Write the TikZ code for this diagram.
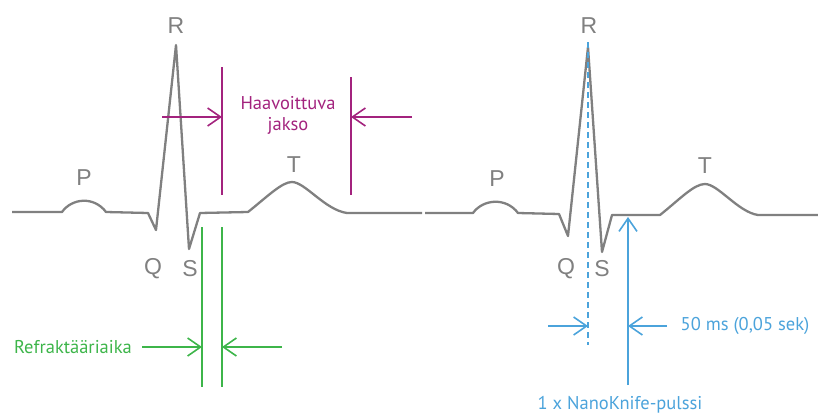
\documentclass[tikz,border=0pt]{standalone}
\usepackage{fontspec}
\setmainfont{PT Sans}
\newfontfamily\arialfont{Liberation Sans}
\usetikzlibrary{arrows.meta}
\definecolor{ecggray}{RGB}{128,128,128}
\definecolor{vmag}{RGB}{163,35,126}
\definecolor{vgreen}{RGB}{61,181,74}
\definecolor{vblue}{RGB}{75,163,219}
\tikzset{
  trace/.style={draw=ecggray,line width=2.3pt,line join=round},
  wlabel/.style={font=\arialfont\fontsize{23}{23}\selectfont,text=ecggray,inner sep=0pt},
  tlabel/.style={font=\fontsize{18.5}{21}\selectfont,inner sep=0pt,align=center},
  barb/.style={-{Straight Barb[length=13pt,width=18pt]}},
  magline/.style={draw=vmag,line width=1.6pt},
  grnline/.style={draw=vgreen,line width=1.6pt},
  bluline/.style={draw=vblue,line width=1.6pt},
}
\begin{document}
\begin{tikzpicture}[x=1pt,y=-1pt]
\useasboundingbox (0,0) rectangle (818,415);
% first beat
\draw[trace] (12,212) -- (62,212) .. controls (72,198) and (94,196) .. (106,212) -- (148,213)
  -- (156,230) -- (176,45) -- (189,249) -- (200,213) -- (248,212)
  .. controls (268,196) and (282,182) .. (292,182) .. controls (305,182) and (325,210) .. (347,213) -- (422,213);
% second beat
\draw[trace] (425,213) -- (473,213) .. controls (483,199) and (506,197) .. (518,213) -- (559,214)
  -- (568,236) -- (588,47) -- (602,252) -- (612,215) -- (660,215)
  .. controls (680,199) and (694,184) .. (705,184) .. controls (718,184) and (738,212) .. (758,215) -- (818,215);
% wave labels
\node[wlabel] (p1) at (84,178) {P};
\node[wlabel] (r1) at (176,26) {R};
\node[wlabel] (t1) at (294,165) {T};
\node[wlabel] (q1) at (153,269) {Q};
\node[wlabel] (s1) at (190,269) {S};
\node[wlabel] (p2) at (497,179) {P};
\node[wlabel] (r2) at (589,26) {R};
\node[wlabel] (t2) at (705,166) {T};
\node[wlabel] (q2) at (566,269) {Q};
\node[wlabel] (s2) at (602,269) {S};
% vulnerable period (magenta)
\coordinate (m1t) at (222,67); \coordinate (m1b) at (222,195);
\coordinate (m2t) at (351,77); \coordinate (m2b) at (351,195);
\coordinate (m1a) at (162,117); \coordinate (m1e) at (222,117);
\coordinate (m2a) at (412,117); \coordinate (m2e) at (351,117);
\draw[magline] (m1t) -- (m1b);
\draw[magline] (m2t) -- (m2b);
\draw[magline,barb] (m1a) -- (m1e);
\draw[magline,barb] (m2a) -- (m2e);
\node[tlabel,text=vmag] (hj) at (288,115) {Haavoittuva\\jakso};
% refractory period (green)
\coordinate (g1t) at (202,227); \coordinate (g1b) at (202,387);
\coordinate (g2t) at (222,227); \coordinate (g2b) at (222,387);
\coordinate (g1a) at (142,347); \coordinate (g1e) at (202,347);
\coordinate (g2a) at (282,347); \coordinate (g2e) at (222,347);
\draw[grnline] (g1t) -- (g1b);
\draw[grnline] (g2t) -- (g2b);
\draw[grnline,barb] (g1a) -- (g1e);
\draw[grnline,barb] (g2a) -- (g2e);
\node[tlabel,text=vgreen] (ref) at (73,347) {Refraktääriaika};
% NanoKnife pulse (blue)
\coordinate (dt) at (588,42); \coordinate (db) at (588,345);
\coordinate (pb) at (628,385); \coordinate (pt) at (628,217);
\coordinate (b1a) at (548,326); \coordinate (b1e) at (588,326);
\coordinate (b2a) at (667,326); \coordinate (b2e) at (628,326);
\draw[bluline,dash pattern=on 6pt off 4pt] (dt) -- (db);
\draw[bluline,barb] (pb) -- (pt);
\draw[bluline,barb] (b1a) -- (b1e);
\draw[bluline,barb] (b2a) -- (b2e);
\node[tlabel,text=vblue] (ms) at (745,326) {50 ms (0,05 sek)};
\node[tlabel,text=vblue] (nk) at (620,405) {1 x NanoKnife-pulssi};
\end{tikzpicture}
\end{document}
